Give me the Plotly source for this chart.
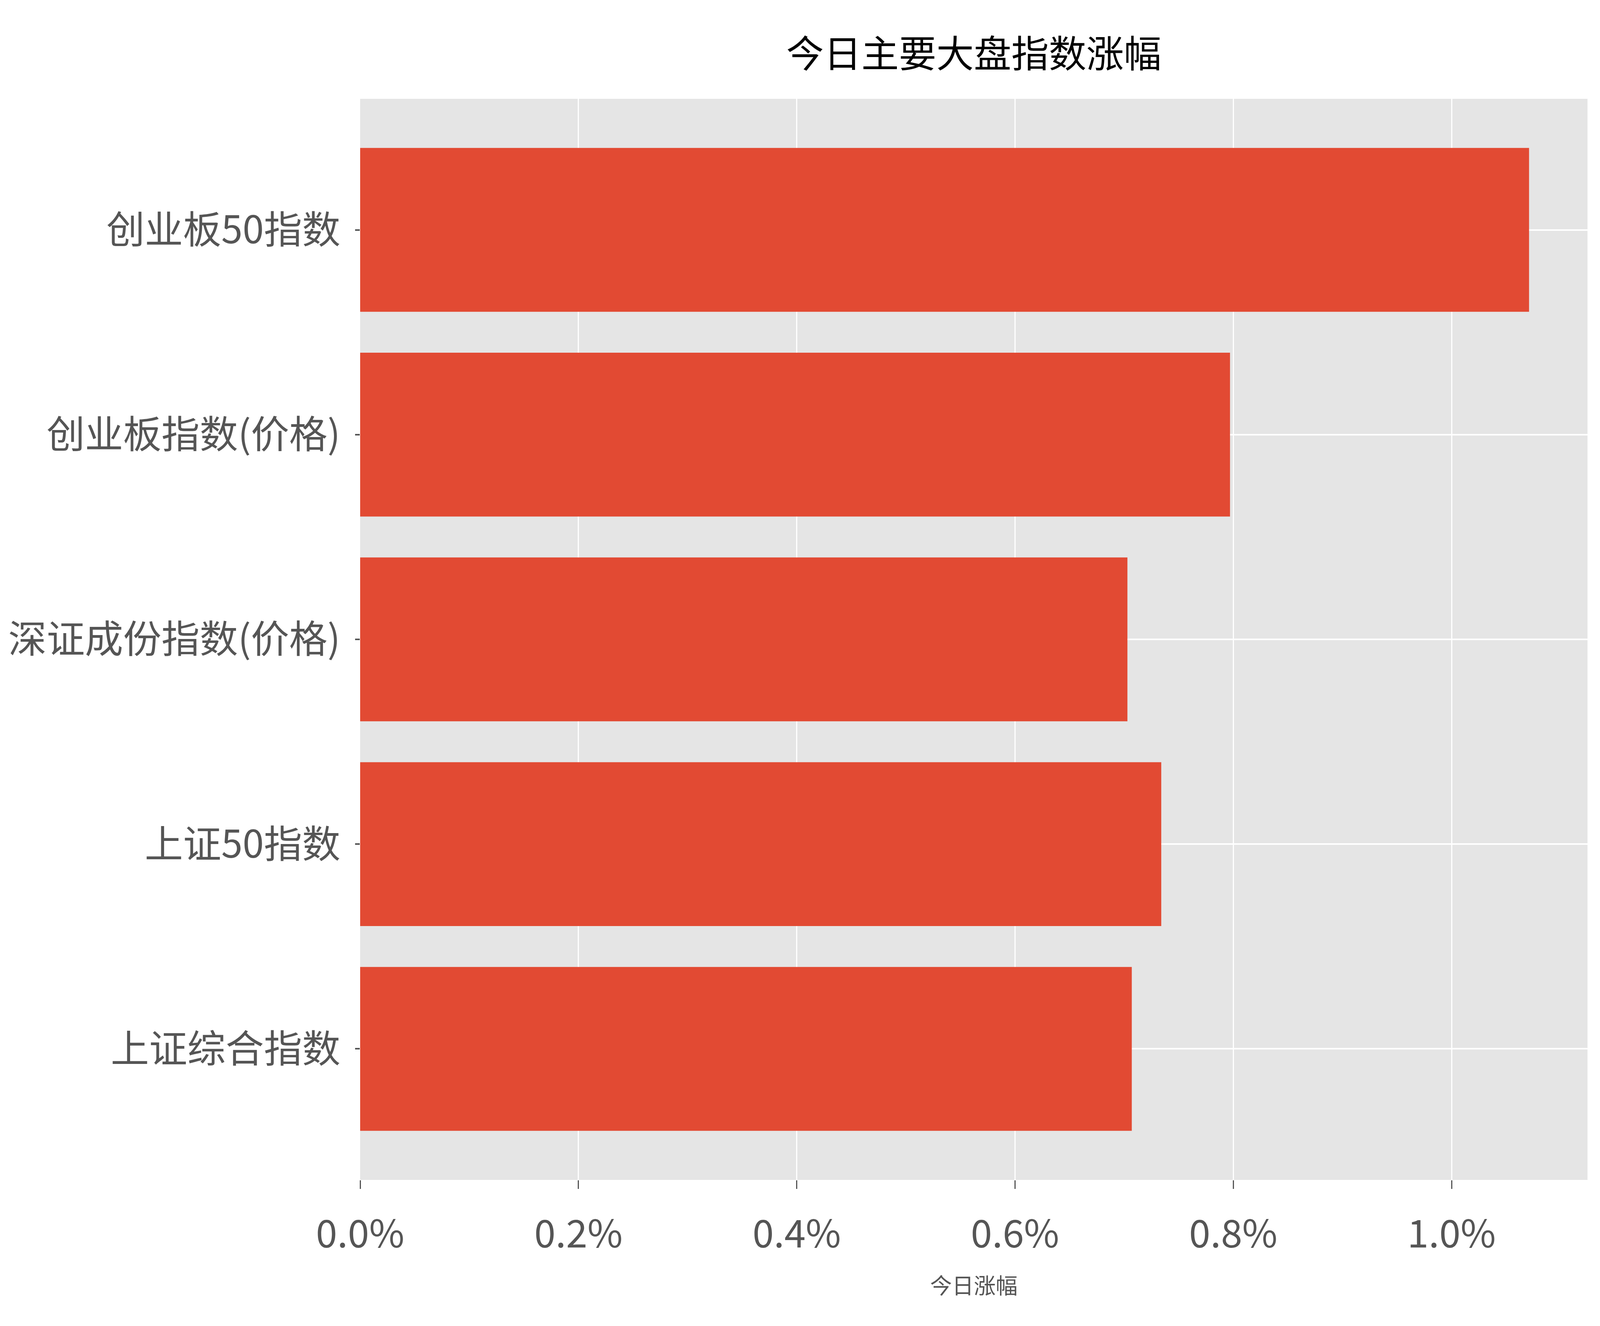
import plotly.graph_objects as go

# index names, bottom to top (as drawn)
names = ["上证综合指数", "上证50指数", "深证成份指数(价格)", "创业板指数(价格)", "创业板50指数"]
# today's change, in percent
change_pct = [0.707, 0.734, 0.703, 0.797, 1.071]

x_ticks = [0.0, 0.2, 0.4, 0.6, 0.8, 1.0]

font_cn = "Noto Sans CJK SC"
grey = "#555555"

# the browser window is 4096 wide, so the page is laid out for that width
W, H = 4096, 3395

fig = go.Figure()
fig.add_trace(go.Bar(
    x=change_pct,
    y=names,
    orientation="h",
    width=0.8,
    marker=dict(color="#E24A33", line=dict(width=0)),
))

fig.update_layout(
    width=W,
    height=H,
    margin=dict(l=914, r=40, t=245, b=382),
    paper_bgcolor="white",
    plot_bgcolor="#E5E5E5",
    showlegend=False,
    title=dict(
        text="今日主要大盘指数涨幅",
        font=dict(family=font_cn, size=96, color="black"),
        x=0.5, xref="paper", xanchor="center",
        y=1 - 130 / H, yref="container", yanchor="middle",
    ),
)

fig.update_xaxes(
    range=[0, max(change_pct) * 1.05],
    tickvals=x_ticks,
    ticktext=["%.1f%%" % v for v in x_ticks],
    tickfont=dict(family=font_cn, size=98, color=grey),
    ticks="outside", ticklen=22, tickwidth=2.5, tickcolor=grey,
    ticklabelstandoff=32,
    showgrid=True, gridcolor="white", gridwidth=2.5,
    zeroline=False, showline=False,
    title=dict(text="今日涨幅", font=dict(family=font_cn, size=56, color=grey), standoff=52),
)

fig.update_yaxes(
    type="category",
    categoryorder="array", categoryarray=names,
    range=[-0.64, 4.64],
    tickfont=dict(family=font_cn, size=98, color=grey),
    ticks="outside", ticklen=12, tickwidth=4, tickcolor=grey,
    ticklabelstandoff=18,
    showgrid=True, gridcolor="white", gridwidth=4,
    zeroline=False, showline=False,
)

fig.write_html("out.html")
